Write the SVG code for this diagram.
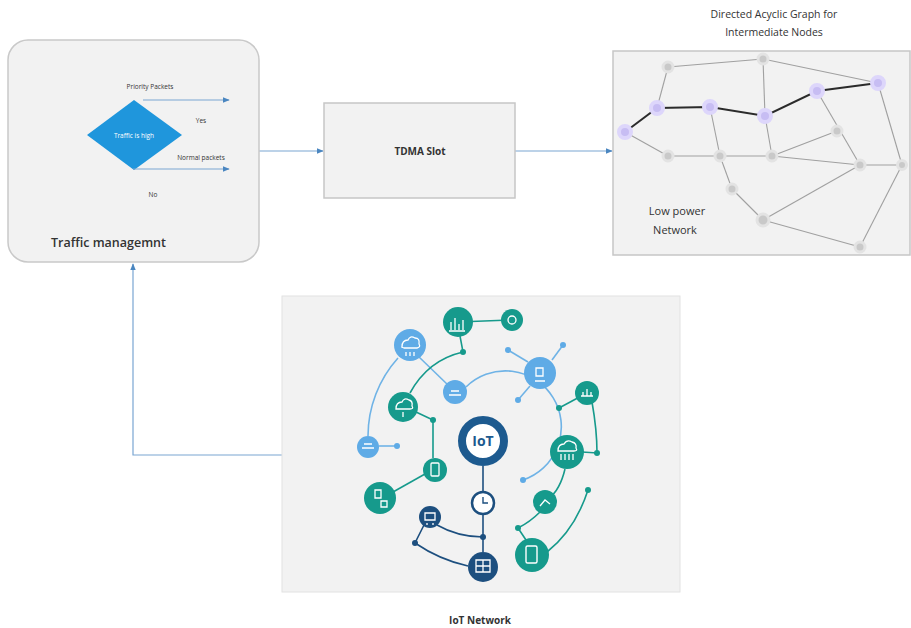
<svg xmlns="http://www.w3.org/2000/svg" width="911" height="628" viewBox="0 0 911 628">
  <defs>
    <marker id="arr" viewBox="0 0 10 10" refX="9" refY="5" markerWidth="6" markerHeight="6" orient="auto-start-reverse">
      <path d="M0,1 L10,5 L0,9 z" fill="#4a86c0"/>
    </marker>
  </defs>
  <style>
    .panel { fill: #f2f2f2; stroke: #c9c9c9; stroke-width: 1.5; }
    .lbl { font-family: "Open Sans", "Liberation Sans", sans-serif; fill: #333; }
    .small { font-size: 6.5px; }
    .conn { stroke: #7aa6d2; stroke-width: 1.2; fill: none; }
    .edge { stroke: #a0a0a0; stroke-width: 1.1; fill: none; }
    .path { stroke: #2b2b2b; stroke-width: 2; fill: none; }
    .gnode { fill: #c9c9c9; stroke: #e3e3e3; stroke-width: 3; }
    .pnode { fill: #c7bdf3; stroke: #ddd6fb; stroke-width: 4; }
    .teal { fill: #169a8c; }
    .lblue { fill: #5fabe6; }
    .navy { fill: #1d4f7f; }
    .tl { stroke: #169a8c; stroke-width: 1.6; fill: none; }
    .bl { stroke: #6fb3e6; stroke-width: 1.6; fill: none; }
    .nl { stroke: #1d4f7f; stroke-width: 1.6; fill: none; }
    .ic { stroke: #fff; stroke-width: 1.3; fill: none; }
  </style>

  <rect width="911" height="628" fill="#ffffff"/>

  <!-- connectors -->
  <g id="connectors">
    <line class="conn" x1="259" y1="151" x2="323" y2="151" marker-end="url(#arr)"/>
    <line class="conn" x1="515" y1="151" x2="612" y2="151" marker-end="url(#arr)"/>
    <polyline class="conn" points="282,455 133,455 133,264" marker-end="url(#arr)"/>
  </g>

  <!-- traffic management block -->
  <g id="traffic">
    <rect class="panel" x="8" y="40" width="251" height="222" rx="20"/>
    <polygon points="134,100 182,135 134,170 87,135" fill="#1f96dc"/>
    <text class="lbl small" x="134" y="137.5" text-anchor="middle" style="fill:#fff">Traffic is high</text>
    <line class="conn" x1="143" y1="100" x2="229" y2="100" marker-end="url(#arr)"/>
    <line class="conn" x1="133" y1="169" x2="229" y2="169" marker-end="url(#arr)"/>
    <text class="lbl small" x="150" y="89" text-anchor="middle">Priority Packets</text>
    <text class="lbl small" x="201" y="123" text-anchor="middle">Yes</text>
    <text class="lbl small" x="201" y="160" text-anchor="middle">Normal packets</text>
    <text class="lbl small" x="153" y="197" text-anchor="middle">No</text>
    <text class="lbl" x="51" y="247" font-size="12.5" font-weight="600">Traffic managemnt</text>
  </g>

  <!-- TDMA slot -->
  <g id="tdma">
    <rect x="324" y="103" width="191" height="95" fill="#f2f2f2" stroke="#c6c6c6" stroke-width="1.5"/>
    <text class="lbl" x="420" y="155" font-size="10" font-weight="700" text-anchor="middle">TDMA Slot</text>
  </g>

  <!-- low power network DAG -->
  <g id="dag">
    <text class="lbl" x="774" y="18" font-size="10.5" text-anchor="middle">Directed Acyclic Graph for</text>
    <text class="lbl" x="774" y="36" font-size="10.5" text-anchor="middle">Intermediate Nodes</text>
    <rect x="613" y="51" width="297" height="204" fill="#f2f2f2" stroke="#c6c6c6" stroke-width="1.5"/>
    <g>
      <line class="edge" x1="668" y1="67" x2="657" y2="108"/>
      <line class="edge" x1="668" y1="67" x2="763" y2="59"/>
      <line class="edge" x1="763" y1="59" x2="765" y2="116"/>
      <line class="edge" x1="763" y1="59" x2="878" y2="83"/>
      <line class="edge" x1="625" y1="132" x2="668" y2="156"/>
      <line class="edge" x1="668" y1="156" x2="772" y2="156"/>
      <line class="edge" x1="772" y1="156" x2="860" y2="165"/>
      <line class="edge" x1="860" y1="165" x2="902" y2="165"/>
      <line class="edge" x1="710" y1="107" x2="720" y2="156"/>
      <line class="edge" x1="765" y1="116" x2="772" y2="156"/>
      <line class="edge" x1="772" y1="156" x2="837" y2="131"/>
      <line class="edge" x1="817" y1="91" x2="860" y2="165"/>
      <line class="edge" x1="878" y1="83" x2="902" y2="165"/>
      <line class="edge" x1="720" y1="156" x2="732" y2="189"/>
      <line class="edge" x1="732" y1="189" x2="763" y2="220"/>
      <line class="edge" x1="763" y1="220" x2="860" y2="165"/>
      <line class="edge" x1="763" y1="220" x2="860" y2="247"/>
      <line class="edge" x1="860" y1="247" x2="902" y2="165"/>
      <polyline class="path" points="625,132 657,108 710,107 765,116 817,91 878,83"/>
    </g>
    <g>
      <circle class="gnode" cx="668" cy="67" r="5"/>
      <circle class="gnode" cx="763" cy="59" r="5"/>
      <circle class="gnode" cx="668" cy="156" r="5"/>
      <circle class="gnode" cx="720" cy="156" r="5"/>
      <circle class="gnode" cx="772" cy="156" r="5"/>
      <circle class="gnode" cx="837" cy="131" r="5"/>
      <circle class="gnode" cx="860" cy="165" r="5"/>
      <circle class="gnode" cx="902" cy="165" r="4.5"/>
      <circle class="gnode" cx="732" cy="189" r="5"/>
      <circle class="gnode" cx="763" cy="220" r="6"/>
      <circle class="gnode" cx="860" cy="247" r="5"/>
      <circle class="pnode" cx="625" cy="132" r="6"/>
      <circle class="pnode" cx="657" cy="108" r="6"/>
      <circle class="pnode" cx="710" cy="107" r="6"/>
      <circle class="pnode" cx="765" cy="116" r="6"/>
      <circle class="pnode" cx="817" cy="91" r="6"/>
      <circle class="pnode" cx="878" cy="83" r="6"/>
    </g>
    <text class="lbl" x="677" y="215" font-size="11" text-anchor="middle">Low power</text>
    <text class="lbl" x="675" y="234" font-size="11" text-anchor="middle">Network</text>
  </g>

  <!-- IoT network -->
  <g id="iot">
    <rect x="282" y="296" width="398" height="296" fill="#f2f2f2" stroke="#e2e2e2" stroke-width="1"/>
    <!-- links -->
    <path class="bl" d="M368,436 A117,117 0 0 1 398,358"/>
    <line class="bl" x1="418" y1="356" x2="448" y2="385"/>
    <path class="bl" d="M466,387 A56,56 0 1 1 523,480"/>
    <line class="bl" x1="379" y1="446" x2="397" y2="446"/>
    <line class="bl" x1="508" y1="350" x2="528" y2="362"/>
    <line class="bl" x1="563" y1="345" x2="552" y2="360"/>
    <line class="bl" x1="518" y1="400" x2="530" y2="386"/>
    <line class="tl" x1="458" y1="322" x2="512" y2="320"/>
    <line class="tl" x1="460" y1="336" x2="463" y2="352"/>
    <path class="tl" d="M410,393 Q428,360 463,352"/>
    <path class="tl" d="M416,412 L433,420 L433,458"/>
    <line class="tl" x1="393" y1="492" x2="425" y2="474"/>
    <line class="tl" x1="559" y1="408" x2="587" y2="393"/>
    <path class="tl" d="M592,402 Q597,430 597,453 L582,452"/>
    <path class="tl" d="M565,469 Q560,490 549,498 M540,512 Q530,522 518,528 L526,540"/>
    <path class="tl" d="M588,490 Q575,530 547,552"/>
    <line class="nl" x1="483" y1="466" x2="483" y2="491"/>
    <line class="nl" x1="483" y1="515" x2="483" y2="552"/>
    <path class="nl" d="M437,525 Q458,537 483,537"/>
    <path class="nl" d="M424,525 L415,543 Q440,560 468,566"/>
    <!-- small link dots -->
    <circle class="teal" cx="463" cy="352" r="3"/>
    <circle class="teal" cx="433" cy="420" r="3"/>
    <circle class="teal" cx="559" cy="408" r="3"/>
    <circle class="teal" cx="597" cy="453" r="3"/>
    <circle class="teal" cx="588" cy="490" r="3"/>
    <circle class="teal" cx="518" cy="528" r="3"/>
    <circle class="lblue" cx="523" cy="480" r="3"/>
    <circle class="lblue" cx="397" cy="446" r="3"/>
    <circle class="lblue" cx="508" cy="350" r="3"/>
    <circle class="lblue" cx="563" cy="345" r="3"/>
    <circle class="lblue" cx="518" cy="400" r="3"/>
    <circle class="navy" cx="483" cy="537" r="3"/>
    <circle class="navy" cx="415" cy="543" r="3"/>
    <!-- device circles -->
    <circle class="teal" cx="458" cy="322" r="15"/>
    <path class="ic" d="M451,330 v-8 M455,330 v-12 M459,330 v-6 M463,330 v-10 M449,331 h16"/>
    <circle class="teal" cx="512" cy="320" r="11"/>
    <circle cx="512" cy="320" r="4" fill="none" stroke="#fff" stroke-width="1.3"/>
    <circle class="lblue" cx="410" cy="345" r="16"/>
    <path class="ic" d="M402,347 q0,-7 6,-7 q2,-5 7,-2 q5,0 4,6 q2,3 -2,4 h-13 q-3,-1 -2,-1 z M406,352 v4 M410,352 v4 M414,352 v4"/>
    <circle class="teal" cx="403" cy="407" r="15"/>
    <path class="ic" d="M396,409 q0,-7 6,-7 q2,-5 7,-2 q4,1 3,6 q2,3 -2,3 h-12 z M403,412 v5"/>
    <circle class="lblue" cx="455" cy="392" r="12"/>
    <path class="ic" d="M449,395 h12 M451,391 h8"/>
    <circle class="lblue" cx="540" cy="373" r="16"/>
    <path class="ic" d="M536,368 h7 v8 h-7 z M535,381 h10"/>
    <circle class="teal" cx="587" cy="393" r="12"/>
    <path class="ic" d="M581,396 h12 M583,392 v4 M587,389 v7 M591,392 v4"/>
    <circle class="teal" cx="567" cy="452" r="17"/>
    <path class="ic" d="M558,451 q0,-7 6,-7 q3,-5 8,-2 q5,1 4,6 q2,3 -2,3 h-14 z M561,454 v6 M565,454 v6 M569,454 v6 M573,454 v6"/>
    <circle class="teal" cx="545" cy="502" r="12"/>
    <path class="ic" d="M540,506 l5,-6 l5,4"/>
    <circle class="teal" cx="532" cy="555" r="17"/>
    <rect x="526" y="546" width="11" height="17" rx="1.5" fill="none" stroke="#fff" stroke-width="1.4"/>
    <circle class="lblue" cx="368" cy="447" r="11"/>
    <path class="ic" d="M362,448 h12 M364,444 h8"/>
    <circle class="teal" cx="435" cy="470" r="12"/>
    <rect x="431" y="463" width="8" height="13" rx="1" fill="none" stroke="#fff" stroke-width="1.3"/>
    <circle class="teal" cx="380" cy="498" r="16"/>
    <path class="ic" d="M375,490 h6 v8 h-6 z M381,501 h6 v6 h-6 z"/>
    <circle cx="483" cy="441" r="21" fill="#ffffff" stroke="#1d5a8f" stroke-width="8"/>
    <text x="483" y="446" font-family="'Open Sans', 'Liberation Sans', sans-serif" font-size="14" font-weight="700" fill="#1d5a8f" text-anchor="middle">IoT</text>
    <circle cx="483" cy="503" r="11" fill="#fff" stroke="#1d4f7f" stroke-width="2.5"/>
    <path d="M483,497 v6 h5" stroke="#1d4f7f" stroke-width="1.4" fill="none"/>
    <circle class="navy" cx="430" cy="517" r="11"/>
    <path class="ic" d="M425,513 h10 v7 h-10 z M427,523 v2 M433,523 v2"/>
    <circle class="navy" cx="483" cy="567" r="15"/>
    <path class="ic" d="M476,560 h14 v12 h-14 z M476,566 h14 M483,560 v12"/>
  </g>
  <text class="lbl" x="480" y="624" font-size="10" font-weight="700" text-anchor="middle">IoT Network</text>
</svg>
